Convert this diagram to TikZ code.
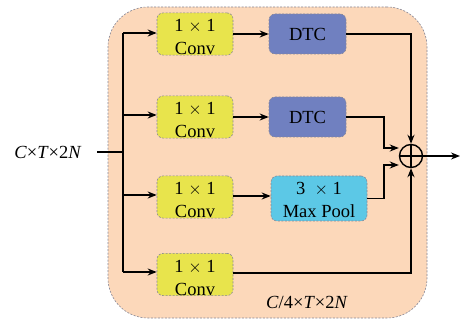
\documentclass[tikz,border=0pt]{standalone}
\usepackage{fontspec}
\setmainfont{Liberation Serif}
\usetikzlibrary{arrows.meta}
\definecolor{peach}{RGB}{252,216,186}
\definecolor{convy}{RGB}{232,228,76}
\definecolor{dtcb}{RGB}{112,128,192}
\definecolor{poolb}{RGB}{92,200,230}
\definecolor{bord}{RGB}{135,135,150}
\begin{document}
\begin{tikzpicture}[x=1pt,y=-1pt,
  blk/.style={draw=bord, dash pattern=on 2pt off 1.5pt, line width=0.6pt, rounded corners=6pt, inner sep=0pt, align=center, font=\fontsize{18.5}{23}\selectfont},
  convbox/.style={blk, fill=convy, minimum width=76pt, minimum height=41pt},
  dtcbox/.style={blk, fill=dtcb, minimum width=77pt, minimum height=40pt},
  poolbox/.style={blk, fill=poolb, minimum width=96pt, minimum height=45pt},
  conn/.style={line width=1.4pt, -{Stealth[length=9pt,width=7pt]}},
  plain/.style={line width=1.4pt},
  lbl/.style={font=\fontsize{18.5}{22}\selectfont, inner sep=0pt}
]
\useasboundingbox (0,0) rectangle (468,320);
\node[draw=bord, dash pattern=on 2pt off 1.5pt, line width=0.6pt, fill=peach, rounded corners=40pt, minimum width=319pt, minimum height=311pt, inner sep=0pt] (outer) at (267.5,162.5) {};

\node[convbox] (c1) at (195,34) {\rule{0pt}{19pt}1 $\times$ 1\\Conv};
\node[convbox] (c2) at (195,117) {\rule{0pt}{19pt}1 $\times$ 1\\Conv};
\node[convbox] (c3) at (195,197) {\rule{0pt}{19pt}1 $\times$ 1\\Conv};
\node[convbox] (c4) at (195,274.5) {\rule{0pt}{19pt}1 $\times$ 1\\Conv};

\node[dtcbox] (d1) at (307.5,34) {DTC};
\node[dtcbox] (d2) at (307.5,117) {DTC};
\node[poolbox] (mp) at (319,198.5) {\rule{0pt}{16pt}3 \ $\times$ 1\\Max Pool};

\node[draw, circle, line width=1.4pt, minimum size=23pt, inner sep=0pt] (sum) at (411,156) {};
\draw[line width=1.4pt] (sum.north) -- (sum.south) (sum.west) -- (sum.east);

\node[lbl] (inlbl) at (48,152) {\textit{C}×\textit{T}×2\textit{N}};
\node[lbl] (outlbl) at (307,302) {\textit{C}/4×\textit{T}×2\textit{N}};

\coordinate (in) at (97,152);
\coordinate (tj) at (123,152);
\coordinate (ttop) at (123,33);
\coordinate (tbot) at (123,272);
\coordinate (out) at (460,156);
\coordinate (k3) at (233,196);

\draw[plain] (in) -- (tj);
\draw[plain] (ttop) -- (tbot);
\draw[conn] (ttop) -- (ttop -| c1.west);
\draw[conn] (123,115) -- (c2.west |- 0,115);
\draw[conn] (123,195) -- (c3.west |- 0,195);
\draw[conn] (tbot) -- (tbot -| c4.west);

\draw[conn] (c1.east) -- (c1.east -| d1.west);
\draw[conn] (c2.east) -- (c2.east -| d2.west);
\draw[conn] (k3) -- (k3 -| mp.west);

\coordinate (ja) at (384,148);
\coordinate (jb) at (384,165);
\coordinate (k4) at (233,273);
\draw[conn] (d1.east) -| (sum.north);
\draw[conn] (d2.east) -| (ja) -- (ja -| sum.west);
\draw[conn] (mp.east) -| (jb) -- (jb -| sum.west);
\draw[conn] (k4) -| (sum.south);
\draw[conn] (sum.east) -- (out);
\end{tikzpicture}
\end{document}
